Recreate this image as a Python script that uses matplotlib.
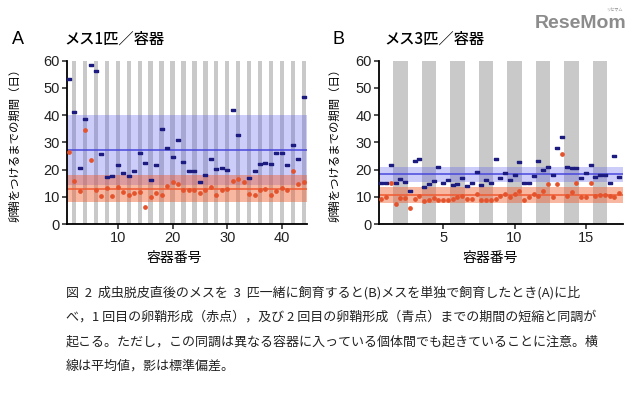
import numpy as np
from matplotlib import pyplot as plt

# panel A: one female per container (container 1..44)
a_first = [26.6, 15.9, 12.3, 34.6, 23.5, 12.5, 10.4, 13.3, 10.4, 13.6,
           11.9, 10.7, 11.5, 11.6, 6.1, 10.0, 11.4, 10.7, 13.9, 15.6,
           14.8, 12.6, 12.6, 12.5, 11.4, 12.6, 13.5, 10.7, 12.5, 12.7,
           15.8, 16.5, 15.6, 10.9, 10.7, 12.6, 13.0, 10.8, 12.1, 13.1,
           12.5, 19.5, 14.6, 15.4]
a_second = [53.3, 41.1, 20.5, 38.5, 58.3, 56.2, 25.6, 17.3, 17.5, 21.7,
            18.9, 17.5, 19.6, 26.2, 22.4, 16.1, 21.5, 34.9, 28.1, 24.6,
            30.8, 22.7, 19.4, 19.6, 15.6, 17.9, 23.9, 20.3, 20.7, 19.8,
            41.9, 32.6, np.nan, 16.8, 19.4, 21.9, 22.5, 21.9, 26.0, 26.0,
            21.5, 29.2, 24.0, 46.6]
a_mean = {"first": (13.0, 4.9), "second": (27.2, 12.7)}

# panel B: three females per container (container 1..17)
b_first = [[9.1, 9.9, 15.2], [7.4, 9.4, 9.4], [6.0, 9.1, 10.2], [8.5, 8.9, 9.6],
           [8.8, 8.8, 8.9], [9.2, 9.9, 10.2], [9.1, 9.3, 10.9], [8.8, 8.8, 8.9],
           [9.3, 10.4, 10.9], [10.0, 11.0, 12.1], [9.0, 10.0, 10.9], [10.3, 12.1, 14.8],
           [10.1, 14.8, 25.7], [10.3, 11.9, 15.0], [10.0, 10.0, 15.0], [10.4, 10.8, 10.7],
           [10.2, 10.0, 11.3]]
b_second = [[15.2, 15.2, 21.7], [15.2, 16.4, 15.3], [12.1, 23.0, 23.8], [13.7, 14.6, 15.7],
            [21.0, 15.0, 16.2], [14.2, 14.8, 17.0], [14.0, 15.1, 19.0], [14.2, 16.1, 15.1],
            [24.0, 16.9, 18.9], [16.1, 18.0, 22.8], [15.0, 15.0, 17.6], [23.2, 19.9, 21.1],
            [18.0, 28.1, 32.0], [21.1, 20.7, 20.7], [16.8, 18.9, 21.8], [17.1, 18.0, 18.0],
            [15.1, 24.9, 17.2]]
b_mean = {"first": (10.6, 2.95), "second": (18.3, 2.75)}

ylabel = "卵鞘をつけるまでの期間（日）"
xlabel = "容器番号"
caption = [
    "図  2  成虫脱皮直後のメスを  3  匹一緒に飼育すると(B)メスを単独で飼育したとき(A)に比",
    "べ，1 回目の卵鞘形成（赤点），及び 2 回目の卵鞘形成（青点）までの期間の短縮と同調が",
    "起こる。ただし，この同調は異なる容器に入っている個体間でも起きていることに注意。横",
    "線は平均値，影は標準偏差。",
]

JP = ["Noto Sans CJK JP", "DejaVu Sans"]
NUM = ["Liberation Sans", "DejaVu Sans"]
STRIPE = "#c9c9c9"
BLUE_DOT = "#1c1c80"
RED_DOT = "#e4532c"
dash = [(-1, -0.45), (1, -0.45), (1, 0.45), (-1, 0.45), (-1, -0.45)]


def style_axis(ax, xticks):
    ax.set_ylim(0, 60)
    ax.set_yticks(range(0, 61, 10))
    ax.set_xticks(xticks)
    for s in ["top", "right"]:
        ax.spines[s].set_visible(False)
    for s in ["left", "bottom"]:
        ax.spines[s].set_linewidth(1.3)
    ax.tick_params(width=1.1, length=3.5, labelsize=10.5, pad=1.5, colors="#222222")
    for lab in ax.get_xticklabels() + ax.get_yticklabels():
        lab.set_family(NUM)


def bands(ax, means):
    m, sd = means["second"]
    ax.axhspan(m - sd, m + sd, color="#5a5af0", alpha=0.3, lw=0, zorder=1)
    ax.axhline(m, color="#4848dc", lw=1.1, zorder=2)
    m, sd = means["first"]
    ax.axhspan(m - sd, m + sd, color="#f06030", alpha=0.45, lw=0, zorder=1)
    ax.axhline(m, color="#f05a30", lw=1.1, zorder=2)


fig = plt.figure(figsize=(6.4, 3.94), dpi=100)

# ---- panel A
axA = fig.add_axes([67 / 640, 1 - 224 / 394, 240 / 640, 163.3 / 394])
nA = len(a_first)
xa = np.arange(1, nA + 1)
even = xa[xa % 2 == 0]
axA.bar(even, 60, width=0.8, color=STRIPE, zorder=0)
bands(axA, a_mean)
axA.plot(xa, a_second, ls="none", marker=dash, ms=3.1, color=BLUE_DOT, zorder=3)
axA.plot(xa, a_first, ls="none", marker="o", ms=2.4, color=RED_DOT, zorder=3)
axA.set_xlim(0.7, 44.6)
style_axis(axA, [10, 20, 30, 40])

# ---- panel B
axB = fig.add_axes([379 / 640, 1 - 224 / 394, 244 / 640, 163.3 / 394])
nB = len(b_first)
xb = np.arange(1, nB + 1)
axB.bar(xb[xb % 2 == 0], 60, width=1.0, color=STRIPE, zorder=0)
bands(axB, b_mean)
offs = np.array([-1 / 3, 0, 1 / 3])
xpts = (xb[:, None] + offs[None, :]).ravel()
axB.plot(xpts, np.ravel(b_second), ls="none", marker=dash, ms=3.1, color=BLUE_DOT, zorder=3)
axB.plot(xpts, np.ravel(b_first), ls="none", marker="o", ms=2.4, color=RED_DOT, zorder=3)
axB.set_xlim(0.5, 17.6)
style_axis(axB, [5, 10, 15])

# ---- labels and titles
for x0, letter, title in [(12, "A", "メス1匹／容器"), (332, "B", "メス3匹／容器")]:
    fig.text(x0 / 640, 1 - 39 / 394, letter, family=NUM, fontsize=13, va="center")
    fig.text((x0 + 52) / 640, 1 - 39 / 394, title, family=JP, fontsize=11,
             weight="medium", va="center")

for xc in [15, 335]:
    fig.text(xc / 640, 1 - 142 / 394, ylabel, family=JP, fontsize=8.2,
             rotation=90, ha="center", va="center")
for xc in [174, 490]:
    fig.text(xc / 640, 1 - 258 / 394, xlabel, family=JP, fontsize=10,
             ha="center", va="center")

for k, line in enumerate(caption):
    fig.text(66 / 640, 1 - (293 + 24.4 * k) / 394, line, family=JP,
             fontsize=9.4, va="center", color="#222222")

fig.text(626 / 640, 1 - 23 / 394, "ReseMom", family=NUM, fontsize=14,
         weight="bold", color="#8c8c8c", ha="right", va="center")
fig.text(614 / 640, 1 - 10 / 394, "リセマム", family=JP, fontsize=3,
         color="#8c8c8c", ha="center", va="center")

fig.savefig("out.png", dpi=100)
